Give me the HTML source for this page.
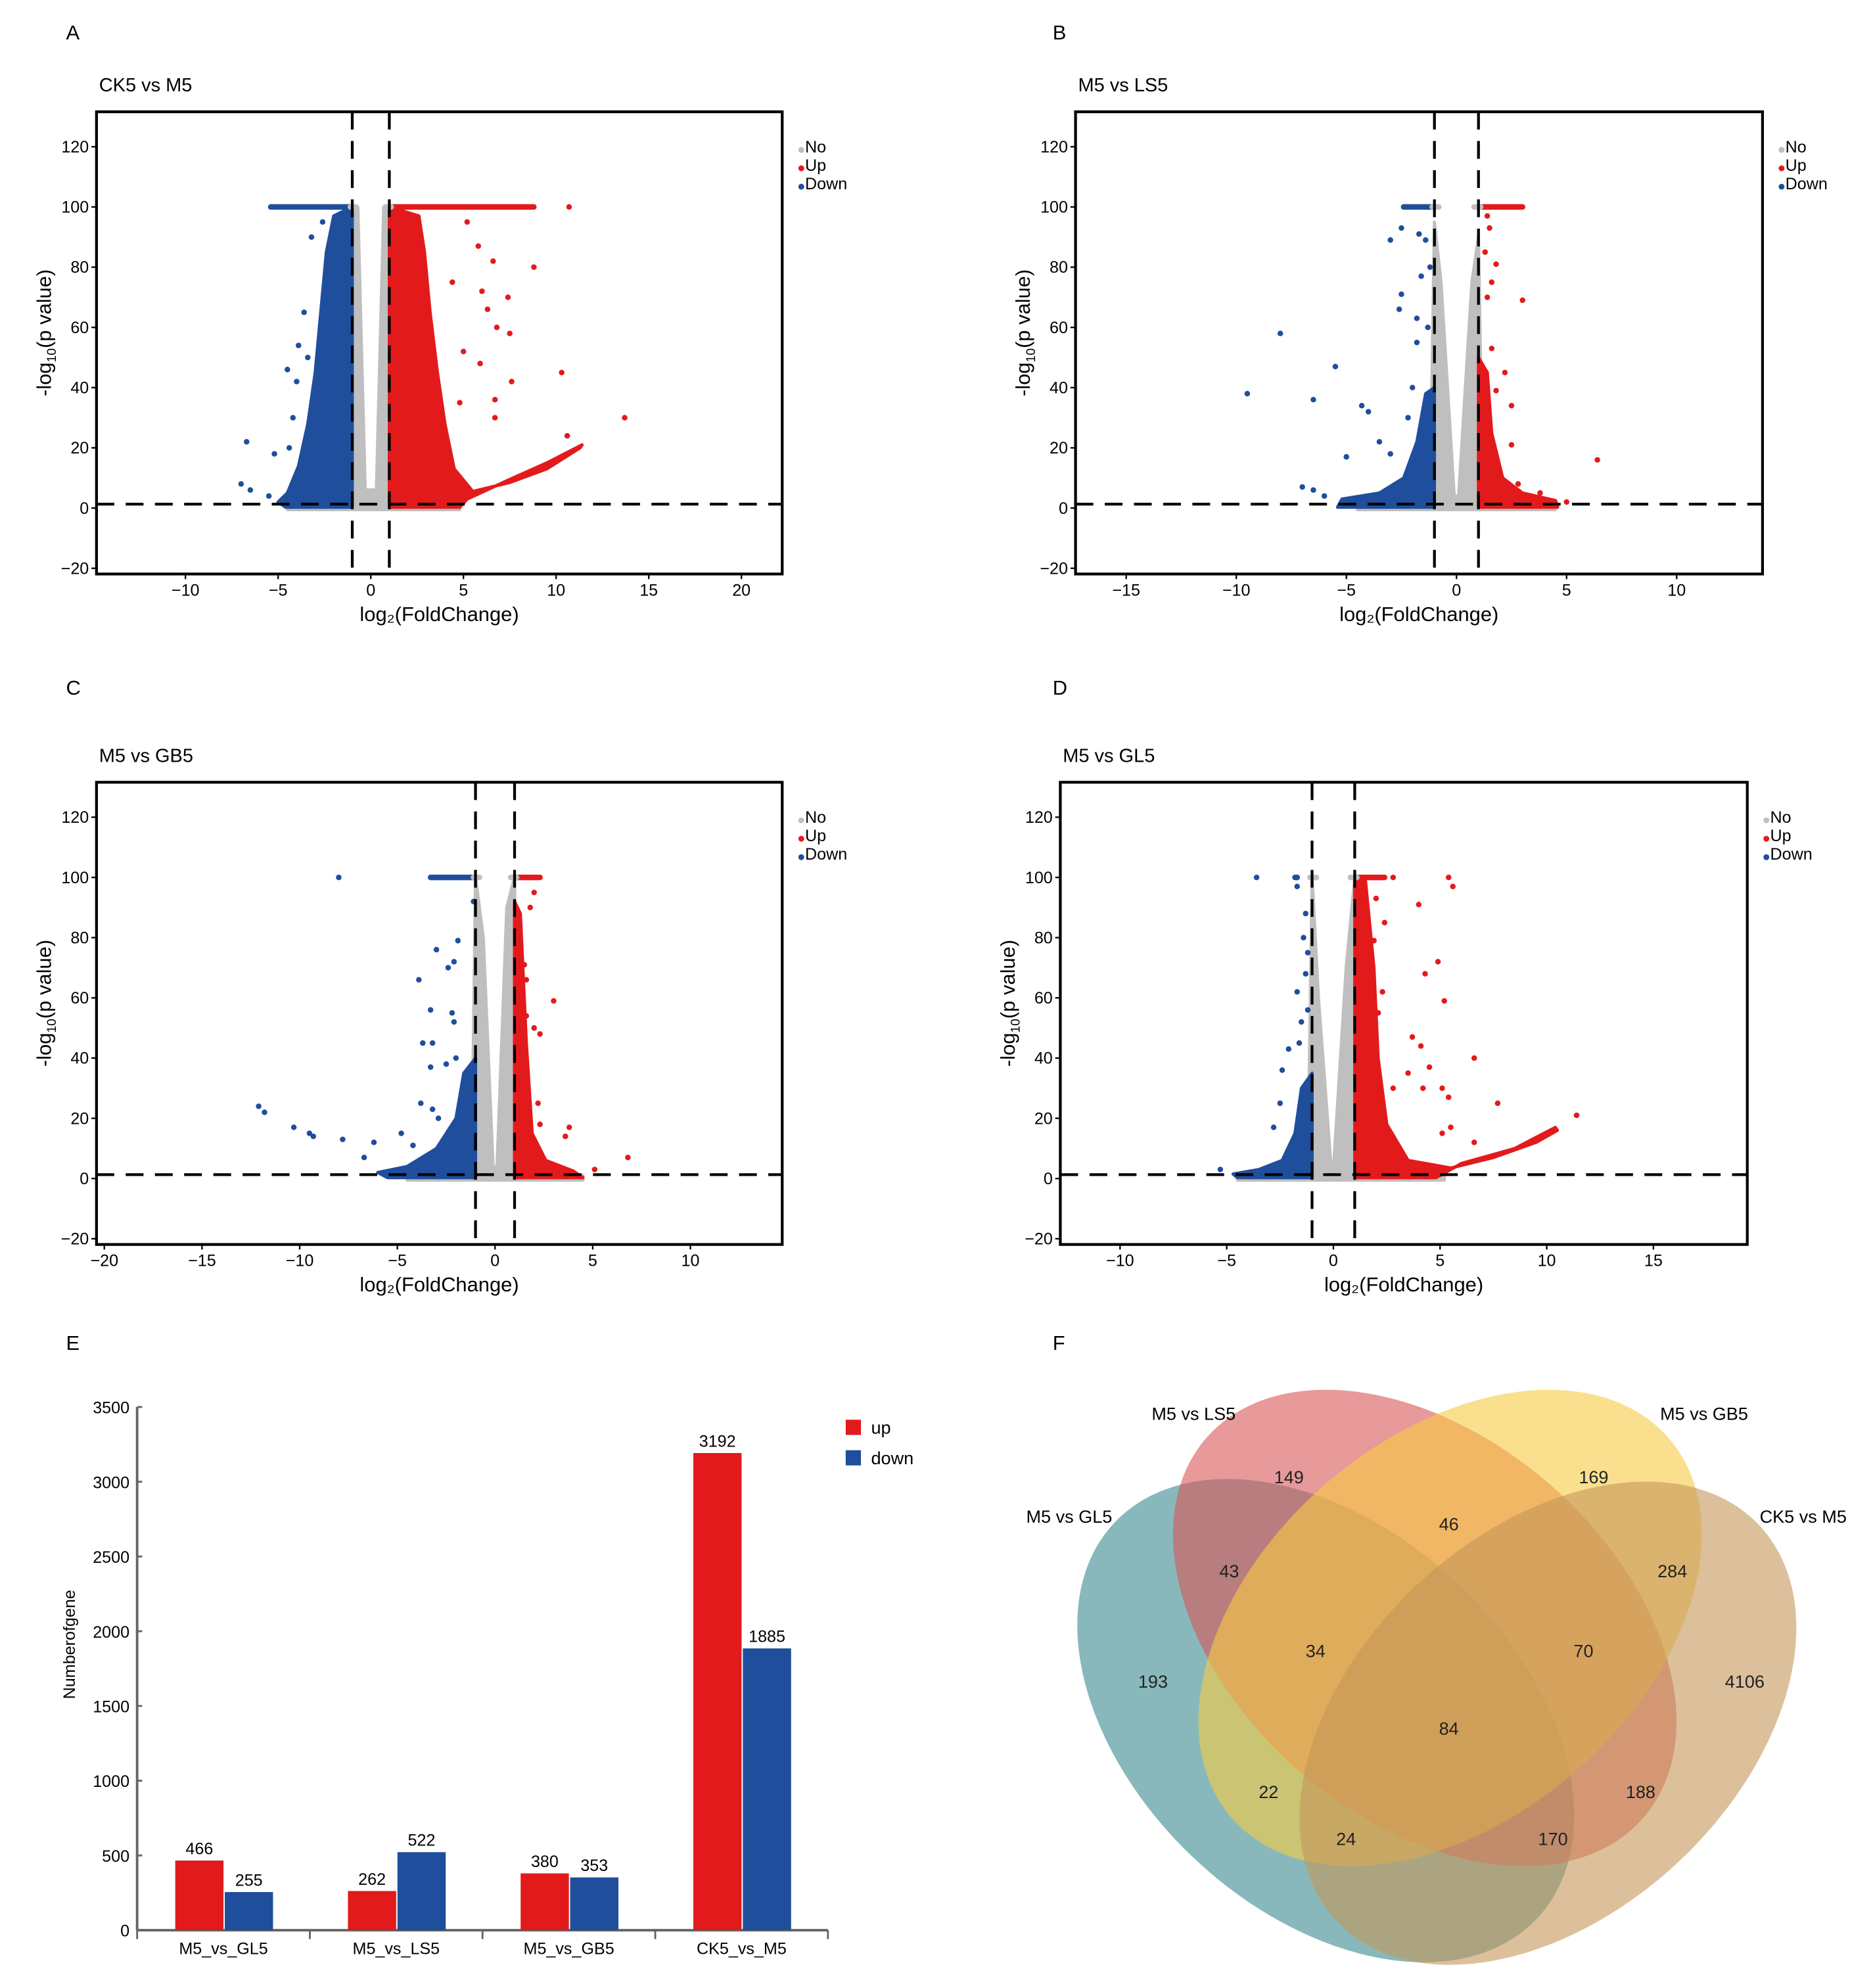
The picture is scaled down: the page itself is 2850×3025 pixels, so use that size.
<!DOCTYPE html>
<html><head><meta charset="utf-8"><style>
html,body{margin:0;padding:0;background:#fff;}
svg{display:block;font-family:"Liberation Sans",Arial,sans-serif;}
</style></head><body>
<svg id="fig" width="2850" height="3025" viewBox="0 0 1475 1565.5" xmlns="http://www.w3.org/2000/svg">
<g font-size="16" fill="#000">
<text x="52" y="31">A</text>
<text x="829" y="31">B</text>
<text x="52" y="547">C</text>
<text x="829" y="547">D</text>
<text x="52" y="1063">E</text>
<text x="829" y="1063">F</text>
</g>
</svg>
<script>
const NS='http://www.w3.org/2000/svg';
const svg=document.getElementById('fig');
function mk(tag,attrs,parent,txt){const e=document.createElementNS(NS,tag);for(const k in attrs)e.setAttribute(k,attrs[k]);if(txt!==undefined)e.textContent=txt;(parent||svg).appendChild(e);return e;}

/* ===== Volcano data ===== */
const yTicks=[-20,0,20,40,60,80,100,120];
const xTicksA=[-10,-5,0,5,10,15,20];
const xTicksB=[-15,-10,-5,0,5,10];
const xTicksC=[-20,-15,-10,-5,0,5,10];
const xTicksD=[-10,-5,0,5,10,15];

const greyA=[[-4.5,-0.5],[4.8,-0.5],[4.8,1.5],[1.2,3],[1.1,100],[0.7,100],[0.3,6],[-0.3,6],[-0.7,100],[-1.1,100],[-1.2,3],[-4.5,1.5]];
const blueA=[[-1,0.3],[-1,100],[-2.0,97],[-2.4,85],[-2.7,65],[-3.0,45],[-3.4,28],[-3.9,14],[-4.5,5],[-5.0,2],[-4.6,0.3]];
const redA=[[1,0.3],[1,100],[2.6,97],[2.9,85],[3.2,65],[3.6,45],[4.0,28],[4.5,13],[5.5,5.5],[7.5,8.5],[9.5,13],[11.3,20],[11.4,21],[9.5,15],[7.5,9.5],[5.2,3],[4.8,0.3]];
const blueTopA=[-5.4,-1];
const redTopA=[1,8.8];
const blueOutA=[[-6.7,22],[-5.2,18],[-4.5,46],[-7,8],[-6.5,6],[-3.2,90],[-3.6,65],[-3.4,50],[-4,42],[-2.6,95],[-5.5,4],[-4.2,30],[-3.8,14],[-3.9,54],[-4.4,20]];
const redOutA=[[13.7,30],[10.3,45],[10.7,100],[8.8,80],[7.4,70],[6.6,82],[5.8,87],[7.6,42],[6.7,36],[6.7,30],[5.9,48],[4.8,35],[10.6,24],[7.5,58],[6.8,60],[5.2,95],[6,72],[4.4,75],[6.3,66],[5.0,52]];

const greyB=[[-4.5,-0.5],[4.5,-0.5],[4.5,1.2],[1.2,2],[1.0,90],[0.7,75],[0.1,4],[-0.1,4],[-0.7,75],[-1.0,95],[-1.2,2],[-4.5,1.2]];
const blueB=[[-1,0.3],[-1,40],[-1.4,38],[-1.8,22],[-2.4,10],[-3.5,5],[-5.2,3],[-5.4,0.3]];
const redB=[[1,0.3],[1,50],[1.4,45],[1.6,25],[2.1,10],[3,5],[4.5,2.5],[4.6,0.3]];
const blueTopB=[-2.4,-1];
const redTopB=[1,3];
const blueOutB=[[-9.5,38],[-8,58],[-6.5,36],[-5.5,47],[-4.3,34],[-4,32],[-3.5,22],[-3,18],[-5,17],[-2.5,71],[-2.6,66],[-2.5,93],[-3,89],[-1.7,91],[-1.4,89],[-1.6,77],[-7,7],[-6.5,6],[-6,4],[-2.2,30],[-1.8,55],[-1.8,63],[-1.2,80],[-2,40],[-1.3,60]];
const redOutB=[[6.4,16],[3,69],[1.8,81],[1.6,75],[1.4,97],[1.5,93],[2.2,45],[2.5,34],[2.5,21],[1.3,85],[1.6,53],[1.8,39],[3.8,5],[5,2],[2.8,8],[1.4,70]];

const greyC=[[-4.5,-0.5],[4.5,-0.5],[4.5,1],[1.2,2],[1.0,100],[0.6,90],[0.1,4],[-0.1,4],[-0.6,80],[-1.0,100],[-1.2,2],[-4.5,1]];
const blueC=[[-1,0.3],[-1,40],[-1.6,35],[-2.0,20],[-3,10],[-4.5,4],[-6,2],[-5.5,0.3]];
const redC=[[1,0.3],[1,92],[1.3,88],[1.6,45],[1.9,15],[2.6,6],[4,2.5],[4.5,0.3]];
const blueTopC=[-3.3,-1];
const redTopC=[1,2.3];
const blueOutC=[[-8,100],[-12.1,24],[-11.8,22],[-10.3,17],[-9.5,15],[-9.3,14],[-7.8,13],[-6.2,12],[-4.8,15],[-6.7,7],[-3.3,56],[-3.9,66],[-3.0,76],[-1.9,79],[-2.1,72],[-2.4,70],[-2.2,55],[-2.1,52],[-3.2,45],[-3.7,45],[-2.5,38],[-3.3,37],[-2.0,40],[-3.8,25],[-3.2,23],[-2.9,20],[-1.1,92],[-1.5,35],[-4.2,11]];
const redOutC=[[6.8,7],[3,59],[1.6,54],[2.0,50],[2.3,48],[1.8,90],[1.5,71],[1.6,66],[2.2,25],[2.3,18],[3.8,17],[3.6,14],[2.1,8],[5.1,3],[2.0,95]];

const greyD=[[-4.5,-0.5],[5.2,-0.5],[5.2,1],[1.2,2],[1.0,100],[0.6,70],[0.0,3],[-0.1,3],[-0.7,60],[-1.0,100],[-1.2,2],[-4.5,1]];
const blueD=[[-1,0.3],[-1,35],[-1.5,30],[-1.8,15],[-2.4,6],[-3.5,3],[-4.7,1.5],[-4.5,0.3]];
const redD=[[1,0.3],[1,100],[1.5,99],[1.9,70],[2.1,40],[2.5,18],[3.5,6],[5.5,3.5],[7.5,7],[9.5,12],[10.5,16],[10.4,17],[8.5,10],[6,5],[5,1],[4.8,0.3]];
const blueTopD=[-1.8,-1.7];
const redTopD=[1,2.4];
const blueOutD=[[-3.6,100],[-1.7,100],[-1.7,97],[-1.3,88],[-1.4,80],[-1.2,75],[-1.3,68],[-1.7,62],[-1.5,52],[-1.2,56],[-2.1,43],[-2.4,36],[-1.6,45],[-2.5,25],[-5.3,3],[-2.8,17]];
const redOutD=[[2.8,100],[5.4,100],[5.6,97],[4.0,91],[4.9,72],[4.3,68],[5.2,59],[3.7,47],[4.1,44],[3.5,35],[4.5,37],[6.6,40],[5.4,27],[5.1,30],[4.2,30],[7.7,25],[2.8,30],[5.1,15],[5.5,17],[6.6,12],[11.4,21],[2.4,85],[2.0,93],[1.9,79],[2.3,62],[2.1,55]];

/* ===== Bar data ===== */
const barCats=['M5_vs_GL5','M5_vs_LS5','M5_vs_GB5','CK5_vs_M5'];
const upVals=[466,262,380,3192];
const downVals=[255,522,353,1885];
const barTicks=[0,500,1000,1500,2000,2500,3000,3500];

/* ===== Venn data ===== */
const vennSets=['M5 vs GL5','M5 vs LS5','M5 vs GB5','CK5 vs M5'];
const vennCounts=['193','149','169','4106','43','46','284','34','70','84','22','188','24','170'];

const GREY='#bfbfbf',BLUE='#1f4e9c',RED='#e31a1c';

function volcano(cfg){
  const g=mk('g',{});
  
  
  const {L,R,T,B,xmin,xmax,ymin,ymax}=cfg;
  const sx=v=>L+(v-xmin)/(xmax-xmin)*(R-L);
  const sy=v=>B-(v-ymin)/(ymax-ymin)*(B-T);
  const t=mk('text',{x:L+2,y:T-16,'font-size':15},g,cfg.title);
  
  
  const pts=d=>d.map(p=>sx(p[0]).toFixed(1)+','+sy(p[1]).toFixed(1)).join(' ');
  const drawPoly=(d,c,n)=>{const e=mk('polygon',{points:pts(d),fill:c,stroke:c,'stroke-width':2.5,'stroke-linejoin':'round'},g);
    
    };
  drawPoly(cfg.grey,GREY,'no-change-cloud');
  drawPoly(cfg.blue,BLUE,'down-cloud');
  drawPoly(cfg.red,RED,'up-cloud');
  const topLine=(r,c,n)=>{const e=mk('line',{x1:sx(r[0]),x2:sx(r[1]),y1:sy(100),y2:sy(100),stroke:c,'stroke-width':4.4,'stroke-linecap':'round'},g);
    
    };
  topLine(cfg.blueTop,BLUE,'down-cap-line');
  topLine(cfg.redTop,RED,'up-cap-line');
  topLine([-1.1,-0.8],GREY,'no-cap-line');
  topLine([0.8,1.1],GREY,'no-cap-line');
  cfg.blueOut.forEach(p=>{const c=mk('circle',{cx:sx(p[0]),cy:sy(p[1]),r:2.2,fill:BLUE},g);
    
    });
  cfg.redOut.forEach(p=>{const c=mk('circle',{cx:sx(p[0]),cy:sy(p[1]),r:2.2,fill:RED},g);
    
    });
  [-1,1].forEach(v=>{const l=mk('line',{x1:sx(v),x2:sx(v),y1:T,y2:B,stroke:'#000','stroke-width':2.2,'stroke-dasharray':'14,9'},g);
    
    });
  const h=mk('line',{x1:L,x2:R,y1:sy(1.3),y2:sy(1.3),stroke:'#000','stroke-width':2.2,'stroke-dasharray':'14,9'},g);
  
  
  const box=mk('rect',{x:L,y:T,width:R-L,height:B-T,fill:'none',stroke:'#000','stroke-width':2.2},g);
  
  
  yTicks.forEach(v=>{mk('line',{x1:L-4,x2:L,y1:sy(v),y2:sy(v),stroke:'#000','stroke-width':1.2},g);
    const tx=mk('text',{x:L-6,y:sy(v)+4.5,'font-size':13,'text-anchor':'end'},g,v<0?'\u2212'+(-v):String(v));
    
    });
  cfg.xTicks.forEach(v=>{mk('line',{x1:sx(v),x2:sx(v),y1:B,y2:B+4,stroke:'#000','stroke-width':1.2},g);
    const tx=mk('text',{x:sx(v),y:B+17,'font-size':13,'text-anchor':'middle'},g,v<0?'\u2212'+(-v):String(v));
    
    });
  const xt=mk('text',{x:(L+R)/2,y:B+37,'font-size':16,'text-anchor':'middle'},g,'log\u2082(FoldChange)');
  
  
  const yt=mk('text',{x:0,y:0,'font-size':16,'text-anchor':'middle',transform:`translate(${L-36},${(T+B)/2-8}) rotate(-90)`},g);
  
  
  yt.innerHTML='-log<tspan font-size="10" dy="4">10</tspan><tspan dy="-4">(p value)</tspan>';
  [['No',GREY],['Up',RED],['Down',BLUE]].forEach((e,i)=>{const lg=mk('g',{},g);
    
    
    mk('circle',{cx:R+15,cy:T+30+i*14.5,r:2.3,fill:e[1]},lg);
    mk('text',{x:R+18,y:T+32+i*14.5,'font-size':13},lg,e[0]);});
}
volcano({name:'volcano-ck5-vs-m5',title:'CK5 vs M5',L:76,R:616,T:88,B:452,xmin:-14.8,xmax:22.2,ymin:-21.9,ymax:131.6,xTicks:xTicksA,grey:greyA,blue:blueA,red:redA,blueTop:blueTopA,redTop:redTopA,blueOut:blueOutA,redOut:redOutA});
volcano({name:'volcano-m5-vs-ls5',title:'M5 vs LS5',L:847,R:1388,T:88,B:452,xmin:-17.3,xmax:13.9,ymin:-21.9,ymax:131.6,xTicks:xTicksB,grey:greyB,blue:blueB,red:redB,blueTop:blueTopB,redTop:redTopB,blueOut:blueOutB,redOut:redOutB});
volcano({name:'volcano-m5-vs-gb5',title:'M5 vs GB5',L:76,R:616,T:616,B:980,xmin:-20.4,xmax:14.7,ymin:-21.9,ymax:131.6,xTicks:xTicksC,grey:greyC,blue:blueC,red:redC,blueTop:blueTopC,redTop:redTopC,blueOut:blueOutC,redOut:redOutC});
volcano({name:'volcano-m5-vs-gl5',title:'M5 vs GL5',L:835,R:1376,T:616,B:980,xmin:-12.8,xmax:19.4,ymin:-21.9,ymax:131.6,xTicks:xTicksD,grey:greyD,blue:blueD,red:redD,blueTop:blueTopD,redTop:redTopD,blueOut:blueOutD,redOut:redOutD});

/* ===== Bar chart ===== */
(function(){
  const g=mk('g',{});
  
  
  const X0=108,X1=652,Y0=1520,Y1=1108,vmax=3500;
  const sy=v=>Y0-v/vmax*(Y0-Y1);
  const gw=(X1-X0)/barCats.length;
  mk('line',{x1:X0,x2:X0,y1:Y1,y2:Y0,stroke:'#666','stroke-width':2},g);
  mk('line',{x1:X0,x2:X1,y1:Y0,y2:Y0,stroke:'#666','stroke-width':2},g);
  barTicks.forEach(v=>{mk('line',{x1:X0,x2:X0+4,y1:sy(v),y2:sy(v),stroke:'#666','stroke-width':1.5},g);
    const t=mk('text',{x:X0-6,y:sy(v)+5,'font-size':13,'text-anchor':'end'},g,String(v));
    
    });
  for(let i=0;i<=barCats.length;i++)mk('line',{x1:X0+i*gw,x2:X0+i*gw,y1:Y0,y2:Y0+7,stroke:'#666','stroke-width':1.5},g);
  barCats.forEach((c,i)=>{
    const gx=X0+i*gw;
    const t=mk('text',{x:gx+gw/2,y:Y0+19,'font-size':13,'text-anchor':'middle'},g,c);
    
    
    [[upVals[i],RED,gx+30,'bar-up'],[downVals[i],BLUE,gx+69,'bar-down']].forEach(b=>{
      const r=mk('rect',{x:b[2],y:sy(b[0]),width:38,height:Y0-sy(b[0]),fill:b[1]},g);
      
      
      const l=mk('text',{x:b[2]+19,y:sy(b[0])-5,'font-size':13,'text-anchor':'middle'},g,String(b[0]));
      
      
    });
  });
  const yt=mk('text',{x:0,y:0,'font-size':13,'text-anchor':'middle',transform:'translate(59,1295) rotate(-90)'},g,'Numberofgene');
  
  
  [['up',RED,1124],['down',BLUE,1148]].forEach(e=>{const lg=mk('g',{},g);
    
    
    mk('rect',{x:666,y:e[2]-6,width:12,height:12,fill:e[1]},lg);
    mk('text',{x:686,y:e[2]+5,'font-size':14},lg,e[0]);});
})();

/* ===== Venn ===== */
(function(){
  const g=mk('g',{});
  
  
  const ells=[[1044,1355,43,'#39898e'],[1122,1282,41,'#d95557'],[1142,1282,-41,'#f7cb43'],[1219,1357,-43,'#c5965a']];
  ells.forEach((e,i)=>{const el=mk('ellipse',{cx:0,cy:0,rx:228,ry:150,fill:e[3],'fill-opacity':0.6,transform:`translate(${e[0]},${e[1]}) rotate(${e[2]})`},g);
    
    });
  const setPos=[[842,1199],[940,1118],[1342,1118],[1420,1199]];
  vennSets.forEach((s,i)=>{const t=mk('text',{x:setPos[i][0],y:setPos[i][1],'font-size':14,'text-anchor':'middle'},g,s);
    
    });
  const cPos=[[908,1324],[1015,1163],[1255,1163],[1374,1324],[968,1237],[1141,1200],[1317,1237],[1036,1300],[1247,1300],[1141,1361],[999,1411],[1292,1411],[1060,1448],[1223,1448]];
  vennCounts.forEach((c,i)=>{const t=mk('text',{x:cPos[i][0],y:cPos[i][1]+5,'font-size':14,'text-anchor':'middle',fill:'#222'},g,c);
    
    });
})();
</script>
</body></html>
